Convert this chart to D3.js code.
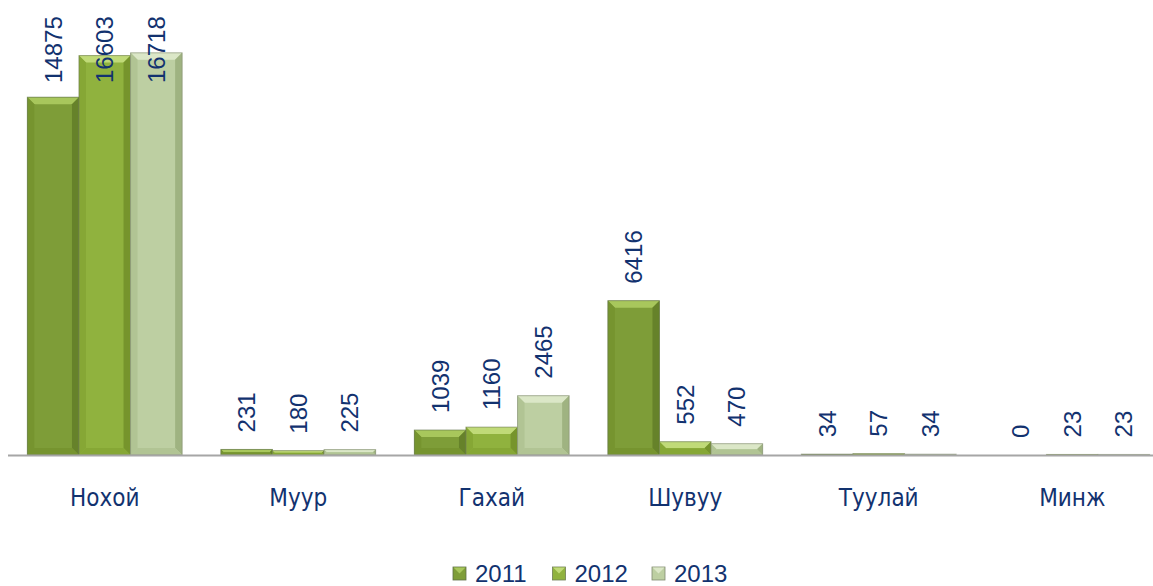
<!DOCTYPE html>
<html>
<head>
<meta charset="utf-8">
<script src="https://cdn.jsdelivr.net/npm/d3@7"></script>
<style>
  body { margin: 0; background: #fff; }
  svg { display: block; }
</style>
</head>
<body>
<div class="canvas_area"></div>
<script>
// DATA
const categories = ["Нохой", "Муур", "Гахай", "Шувуу", "Туулай", "Минж"];
const years = ["2011", "2012", "2013"];
const values2011 = [14875, 231, 1039, 6416, 34, 0];
const values2012 = [16603, 180, 1160, 552, 57, 23];
const values2013 = [16718, 225, 2465, 470, 34, 23];
const series = [values2011, values2012, values2013];

// colours per series: main, light (top bevel), side, dark (right), stroke
const palette = [
  { main: "#7e9d38", light: "#a8c75c", side: "#76942f", dark: "#66822a", stroke: "#5f6f48" },
  { main: "#90b23e", light: "#c0da78", side: "#86a735", dark: "#76942c", stroke: "#6f7d55" },
  { main: "#bdcfa2", light: "#dbe7c7", side: "#b1c494", dark: "#9fb381", stroke: "#808a70" }
];

const width = 1153, height = 586;
const baseY = 455;

const svg = d3.select(".canvas_area").append("svg")
  .attr("width", width)
  .attr("height", height);

// SCALES
const X = d3.scaleBand()
  .domain(categories)
  .range([8, 1169])
  .paddingInner(0.2)
  .paddingOuter(0.1);

const inner = d3.scaleBand()
  .domain(years)
  .range([0, X.bandwidth()]);

const Y = d3.scaleLinear()
  .domain([0, 18000])
  .range([baseY, 22]);

const graph = svg.append("g");

// BARS
const bars = [];
series.forEach((vals, si) => {
  vals.forEach((v, ci) => {
    bars.push({ cat: categories[ci], year: years[si], si: si, value: v });
  });
});

const barG = graph.selectAll(".bar").data(bars).enter()
  .append("g").classed("bar", true);

barG.each(function(d) {
  const g = d3.select(this);
  const x0 = X(d.cat) + inner(d.year);
  const w = inner.bandwidth();
  const y0 = Y(d.value);
  const h = baseY - y0;
  const c = palette[d.si];
  if (h <= 0) return;
  const b = Math.min(7, h / 2, w / 2);
  const x1 = x0 + w, y1 = baseY;
  g.append("rect")
    .attr("x", x0).attr("y", y0).attr("width", w).attr("height", h)
    .style("fill", c.main);
  if (h > 3) {
    // top bevel
    g.append("polygon")
      .attr("points", [[x0, y0], [x1, y0], [x1 - b, y0 + b], [x0 + b, y0 + b]].join(" "))
      .style("fill", c.light);
    // left bevel
    g.append("polygon")
      .attr("points", [[x0, y0], [x0 + b, y0 + b], [x0 + b, y1 - b], [x0, y1]].join(" "))
      .style("fill", c.side);
    // right bevel
    g.append("polygon")
      .attr("points", [[x1, y0], [x1 - b, y0 + b], [x1 - b, y1 - b], [x1, y1]].join(" "))
      .style("fill", c.dark);
    // bottom bevel
    g.append("polygon")
      .attr("points", [[x0, y1], [x0 + b, y1 - b], [x1 - b, y1 - b], [x1, y1]].join(" "))
      .style("fill", c.side);
  }
  g.append("rect")
    .attr("x", x0).attr("y", y0).attr("width", w).attr("height", h)
    .style("fill", "none")
    .style("stroke", c.stroke)
    .style("stroke-width", 1)
    .style("stroke-opacity", 0.6);
});

// AXIS LINE
graph.append("line")
  .attr("x1", 8).attr("x2", width)
  .attr("y1", baseY + 0.5).attr("y2", baseY + 0.5)
  .style("stroke", "#a6a6a6")
  .style("stroke-width", 2);

// VALUE LABELS
graph.selectAll(".val-label").data(bars).enter()
  .append("text").classed("val-label", true)
  .attr("transform", d => {
    const cx = X(d.cat) + inner(d.year) + inner.bandwidth() / 2;
    const y = Math.max(Y(d.value) - 17, 83);
    return `translate(${cx},${y}) rotate(-90)`;
  })
  .attr("dy", "0.36em")
  .style("font-family", "'Liberation Sans', Arial, sans-serif")
  .style("font-size", "24px")
  .style("fill", "#12326f")
  .text(d => d.value);

// CATEGORY LABELS
graph.selectAll(".cat-label").data(categories).enter()
  .append("text").classed("cat-label", true)
  .attr("x", d => X(d) + X.bandwidth() / 2)
  .attr("y", 506)
  .attr("text-anchor", "middle")
  .style("font-family", "'DejaVu Sans Condensed', 'DejaVu Sans', sans-serif")
  .style("font-stretch", "condensed")
  .style("font-size", "24px")
  .style("fill", "#12326f")
  .text(d => d);

// LEGEND
const legend = svg.append("g").attr("transform", "translate(453, 567)");
const item = legend.selectAll(".legend-item").data(years).enter()
  .append("g").classed("legend-item", true)
  .attr("transform", (d, i) => `translate(${i * 99.5}, 0)`);

item.append("rect")
  .attr("x", 0).attr("y", 0).attr("width", 13).attr("height", 13)
  .style("fill", (d, i) => palette[i].main)
  .style("stroke", (d, i) => palette[i].stroke)
  .style("stroke-width", 0.8);
item.append("polygon")
  .attr("points", "0.5,0.5 12.5,0.5 6.5,6.5")
  .style("fill", (d, i) => palette[i].light);

item.append("text")
  .attr("x", 22).attr("y", 15)
  .style("font-family", "'Liberation Sans', Arial, sans-serif")
  .style("font-size", "24px")
  .style("fill", "#12326f")
  .text(d => d);
</script>
</body>
</html>
